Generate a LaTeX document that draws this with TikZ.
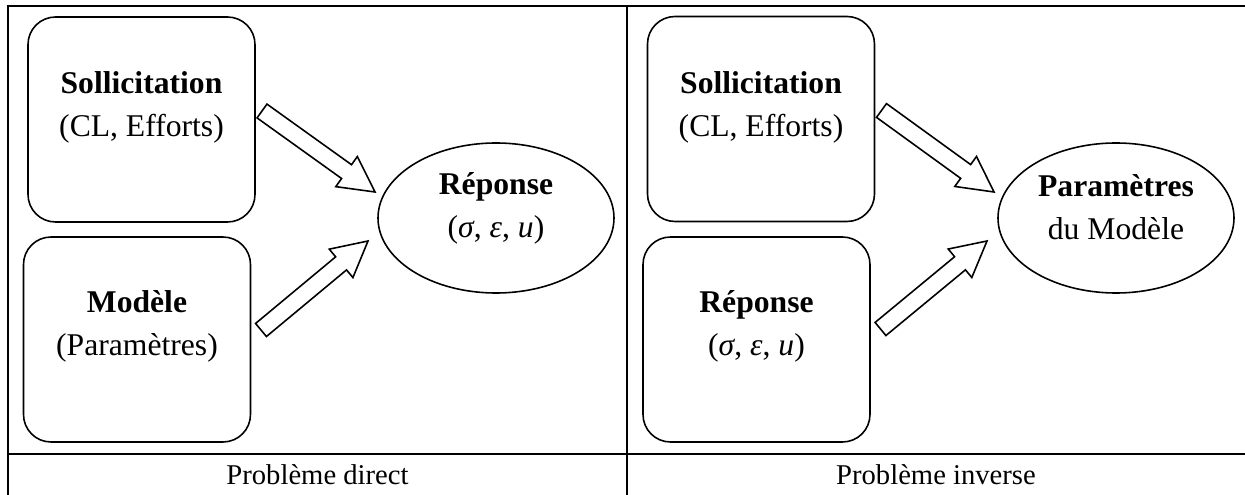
\documentclass[tikz,border=0pt]{standalone}
\usepackage{fontspec}
\setmainfont{Liberation Serif}
\usetikzlibrary{calc, shapes.geometric}

\begin{document}
\begin{tikzpicture}[
    every node/.style={font=\fontsize{18}{24.4}\selectfont},
    box/.style={
      draw, line width=0.9pt,
      rounded corners=0.55cm,
      minimum width=4.54cm, minimum height=4.1cm,
    },
    result/.style={
      draw, ellipse, line width=0.9pt, inner sep=0pt,
      minimum width=4.72cm, minimum height=3cm,
    },
    txt/.style={align=center, inner sep=0pt},
    rule/.style={line width=1.7pt},
    caption/.style={font=\fontsize{16.3}{20}\selectfont},
    fat/.style={draw, line width=0.9pt, fill=white, line join=miter},
  ]
  \useasboundingbox (0,0) rectangle (24.9,9.9);

  % table
  \draw[rule] (0.16,0) -- (0.16,9.78) -- (24.9,9.78);
  \draw[rule] (12.54,0) -- (12.54,9.78);
  \draw[rule] (0.16,0.82) -- (24.9,0.82);

  % direct problem
  \node[box] (sol1) at (2.83,7.51) {};
  \node[box] (mod) at (2.74,3.11) {};
  \node[result] (rep1) at (9.92,5.54) {};
  \node[txt] (sol1txt) at ($(sol1)+(0,0.25)$) {\textbf{Sollicitation}\\(CL, Efforts)};
  \node[txt] (modtxt) at ($(mod)+(0,0.27)$) {\textbf{Modèle}\\(Paramètres)};
  \node[txt] (rep1txt) at ($(rep1)+(0,0.2)$) {\textbf{Réponse}\\(\textit{σ}, \textit{ε}, \textit{u})};

  % inverse problem
  \node[box] (sol2) at (15.22,7.52) {};
  \node[box] (rep2) at (15.13,3.11) {};
  \node[result] (par) at (22.32,5.54) {};
  \node[txt] (sol2txt) at ($(sol2)+(0,0.24)$) {\textbf{Sollicitation}\\(CL, Efforts)};
  \node[txt] (rep2txt) at ($(rep2)+(0,0.27)$) {\textbf{Réponse}\\(\textit{σ}, \textit{ε}, \textit{u})};
  \node[txt] (partxt) at ($(par)+(0,0.22)$) {\textbf{Paramètres}\\du Modèle};

  % block arrows
  \coordinate (tail1) at (5.24,7.68);  \coordinate (tip1) at (7.5,6.06);
  \coordinate (tail2) at (5.22,3.3);   \coordinate (tip2) at (7.36,5.08);
  \coordinate (tail3) at (17.63,7.69); \coordinate (tip3) at (19.88,6.06);
  \coordinate (tail4) at (17.61,3.32); \coordinate (tip4) at (19.74,5.08);
  \foreach \a/\b in {tail1/tip1, tail2/tip2, tail3/tip3, tail4/tip4} {
    \coordinate (hb) at ($(\b)!0.7cm!(\a)$);
    \draw[fat] ($(\a)!0.17cm!90:(\b)$) -- ($(hb)!0.17cm!90:(\b)$)
      -- ($(hb)!0.37cm!90:(\b)$) -- (\b) -- ($(hb)!0.37cm!-90:(\b)$)
      -- ($(hb)!0.17cm!-90:(\b)$) -- ($(\a)!0.17cm!-90:(\b)$) -- cycle;
  }

  % captions
  \node[caption] (cdir) at (6.35,0.41) {Problème direct};
  \node[caption] (cinv) at (18.72,0.41) {Problème inverse};
\end{tikzpicture}
\end{document}
